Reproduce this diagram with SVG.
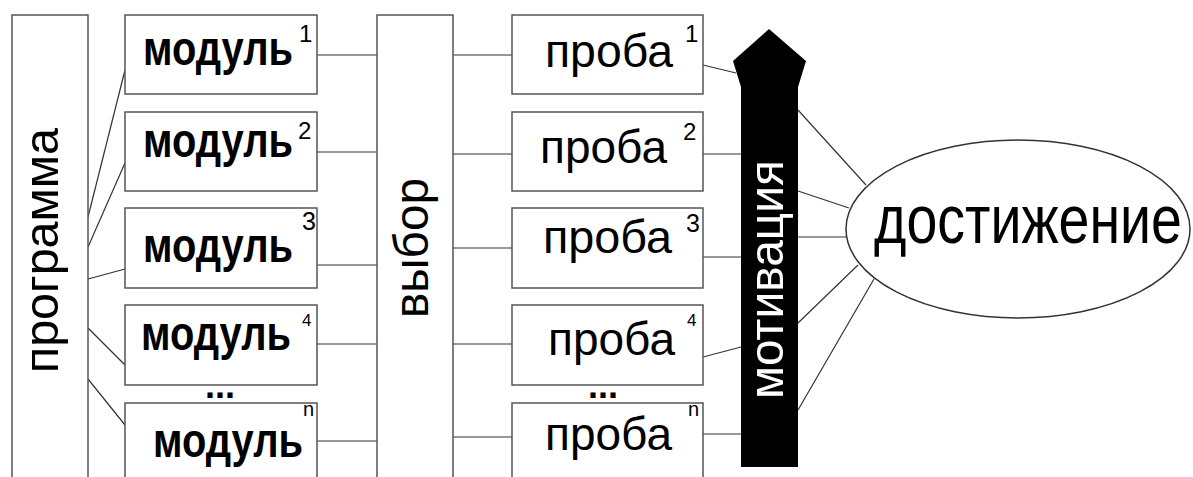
<svg xmlns="http://www.w3.org/2000/svg" width="1193" height="477" viewBox="0 0 1193 477">
<style>
.box{fill:#fff;stroke:#555;stroke-width:1.5}
.ln{stroke:#333;stroke-width:1.2;fill:none}
.t{font-family:"Liberation Sans",Arial,sans-serif;fill:#000}
.b{font-weight:bold}
.sup{font-family:"Liberation Sans",Arial,sans-serif;fill:#000}
</style>
<rect width="1193" height="477" fill="#fff"/>
<g id="connectors">
<line class="ln" x1="88" y1="217" x2="125" y2="70"/>
<line class="ln" x1="88" y1="247" x2="125" y2="163"/>
<line class="ln" x1="88" y1="279" x2="125" y2="269"/>
<line class="ln" x1="88" y1="328" x2="125" y2="365"/>
<line class="ln" x1="88" y1="379" x2="125" y2="425"/>
<line class="ln" x1="317" y1="55" x2="377" y2="55"/>
<line class="ln" x1="317" y1="152" x2="377" y2="152"/>
<line class="ln" x1="317" y1="265" x2="377" y2="265"/>
<line class="ln" x1="317" y1="344" x2="377" y2="344"/>
<line class="ln" x1="317" y1="441" x2="377" y2="441"/>
<line class="ln" x1="453" y1="55" x2="512" y2="55"/>
<line class="ln" x1="453" y1="154" x2="512" y2="154"/>
<line class="ln" x1="453" y1="248" x2="512" y2="248"/>
<line class="ln" x1="453" y1="344" x2="512" y2="344"/>
<line class="ln" x1="453" y1="437" x2="512" y2="437"/>
<line class="ln" x1="703" y1="65" x2="736" y2="73"/>
<line class="ln" x1="703" y1="154" x2="741" y2="154"/>
<line class="ln" x1="703" y1="257" x2="741" y2="257"/>
<line class="ln" x1="703" y1="357" x2="741" y2="347"/>
<line class="ln" x1="703" y1="434" x2="741" y2="434"/>
<line class="ln" x1="798" y1="110" x2="866" y2="185"/>
<line class="ln" x1="798" y1="191" x2="849" y2="208"/>
<line class="ln" x1="798" y1="237" x2="847" y2="237"/>
<line class="ln" x1="798" y1="323" x2="858" y2="265"/>
<line class="ln" x1="798" y1="410" x2="874" y2="279"/>
</g>
<g id="programma">
<rect class="box" x="12" y="15" width="76" height="470"/>
<text class="t" font-size="48" textLength="245" lengthAdjust="spacingAndGlyphs" transform="translate(58,373) rotate(-90)">программа</text>
</g>
<g id="modul1">
<rect class="box" x="125" y="15" width="192" height="79"/>
<text class="t b" font-size="40" textLength="150" lengthAdjust="spacingAndGlyphs" transform="translate(143,65) scale(1,1.2)">модуль</text>
<text class="sup" x="299" y="42" font-size="24">1</text>
</g>
<g id="modul2">
<rect class="box" x="125" y="112" width="192" height="79"/>
<text class="t b" font-size="40" textLength="150" lengthAdjust="spacingAndGlyphs" transform="translate(143,157) scale(1,1.2)">модуль</text>
<text class="sup" x="298" y="139" font-size="24">2</text>
</g>
<g id="modul3">
<rect class="box" x="125" y="208" width="192" height="80"/>
<text class="t b" font-size="40" textLength="150" lengthAdjust="spacingAndGlyphs" transform="translate(143,262) scale(1,1.2)">модуль</text>
<text class="sup" x="302" y="230" font-size="25">3</text>
</g>
<g id="modul4">
<rect class="box" x="125" y="305" width="192" height="80"/>
<text class="t b" font-size="40" textLength="150" lengthAdjust="spacingAndGlyphs" transform="translate(141,350) scale(1,1.2)">модуль</text>
<text class="sup" x="302" y="326" font-size="17">4</text>
</g>
<text class="t b" x="205" y="398" font-size="36">...</text>
<g id="moduln">
<rect class="box" x="125" y="403" width="192" height="85"/>
<text class="t b" font-size="40" textLength="150" lengthAdjust="spacingAndGlyphs" transform="translate(153,457) scale(1,1.2)">модуль</text>
<text class="sup" x="303" y="416" font-size="20">n</text>
</g>
<g id="vybor">
<rect class="box" x="377" y="15" width="76" height="470"/>
<text class="t" font-size="48" textLength="140" lengthAdjust="spacingAndGlyphs" transform="translate(428,318) rotate(-90)">выбор</text>
</g>
<g id="proba1">
<rect class="box" x="512" y="15" width="191" height="79"/>
<text class="t" x="545" y="67" font-size="46" textLength="128" lengthAdjust="spacingAndGlyphs">проба</text>
<text class="sup" x="685" y="42" font-size="24">1</text>
</g>
<g id="proba2">
<rect class="box" x="512" y="112" width="191" height="79"/>
<text class="t" x="540" y="163" font-size="46" textLength="127" lengthAdjust="spacingAndGlyphs">проба</text>
<text class="sup" x="683" y="140" font-size="24">2</text>
</g>
<g id="proba3">
<rect class="box" x="512" y="208" width="191" height="80"/>
<text class="t" x="543" y="253" font-size="46" textLength="129" lengthAdjust="spacingAndGlyphs">проба</text>
<text class="sup" x="686" y="232" font-size="25">3</text>
</g>
<g id="proba4">
<rect class="box" x="512" y="305" width="191" height="80"/>
<text class="t" x="548" y="355" font-size="46" textLength="127" lengthAdjust="spacingAndGlyphs">проба</text>
<text class="sup" x="687" y="326" font-size="17">4</text>
</g>
<text class="t b" x="588" y="398" font-size="36">...</text>
<g id="proban">
<rect class="box" x="512" y="403" width="191" height="85"/>
<text class="t" x="545" y="450" font-size="46" textLength="127" lengthAdjust="spacingAndGlyphs">проба</text>
<text class="sup" x="688" y="416" font-size="20">n</text>
</g>
<g id="motivaciya">
<path d="M769,29 L806,61 L798,87 L798,467 L741,467 L741,87 L733,61 Z" fill="#000"/>
<text class="t" style="fill:#fff" font-size="49" textLength="239" lengthAdjust="spacingAndGlyphs" transform="translate(783,399) rotate(-90)">мотивация</text>
</g>
<g id="dostizhenie">
<ellipse cx="1018" cy="229" rx="172" ry="89" fill="#fff" stroke="#333" stroke-width="1.5"/>
<text class="t" font-size="55" textLength="308" lengthAdjust="spacingAndGlyphs" transform="translate(874,243) scale(1,1.25)">достижение</text>
</g>
</svg>
